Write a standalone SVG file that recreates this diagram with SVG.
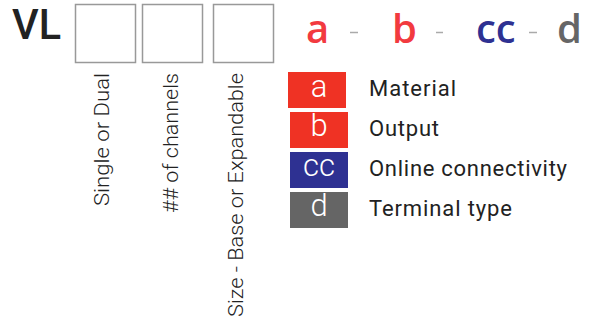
<svg xmlns="http://www.w3.org/2000/svg" width="589" height="324" viewBox="0 0 589 324">
<style>
.box{fill:#fff;stroke:#999;stroke-width:1.5}
.vt{font-family:Roboto,"Liberation Sans",sans-serif;font-size:20px;font-weight:300;fill:#222}
.code{font-family:"Open Sans","Liberation Sans",sans-serif;font-size:40px;font-weight:600}
.dash{stroke:#aaa;stroke-width:1.5}
.lt{font-family:Roboto,"Liberation Sans",sans-serif;font-size:22px;fill:#222}
.bt{font-family:Roboto,"Liberation Sans",sans-serif;font-size:31px;font-weight:300;fill:#fff;text-anchor:middle}
</style>
<g id="title"><text x="12" y="39" font-family="Roboto,Liberation Sans,sans-serif" font-weight="500" font-size="42" fill="#222" textLength="49" lengthAdjust="spacingAndGlyphs">VL</text></g>
<g id="box1"><rect class="box" x="75.5" y="4.5" width="60" height="58"/><text class="vt" transform="translate(109,206) rotate(-90)" textLength="133" lengthAdjust="spacingAndGlyphs">Single or Dual</text></g>
<g id="box2"><rect class="box" x="142.5" y="4.5" width="60" height="58"/><text class="vt" transform="translate(178,213) rotate(-90)" textLength="140" lengthAdjust="spacingAndGlyphs">## of channels</text></g>
<g id="box3"><rect class="box" x="213.5" y="4.5" width="60" height="58"/><text class="vt" transform="translate(243,317) rotate(-90)" textLength="244" lengthAdjust="spacingAndGlyphs">Size - Base or Expandable</text></g>
<g id="codes">
<text class="code" x="306" y="43" fill="#f23a3f">a</text>
<text class="code" x="392" y="43" fill="#f23a3f">b</text>
<text class="code" x="476" y="43" fill="#2e3192">cc</text>
<text class="code" x="557" y="43" fill="#666">d</text>
</g>
<g id="connectors">
<line class="dash" x1="350" y1="32.5" x2="358" y2="32.5"/>
<line class="dash" x1="436" y1="32.5" x2="443" y2="32.5"/>
<line class="dash" x1="529" y1="32.5" x2="537" y2="32.5"/>
</g>
<g id="legend-a"><rect x="288" y="72" width="58" height="36" fill="#ef3224"/><text class="bt" x="319" y="97">a</text><text class="lt" x="369" y="96" textLength="87">Material</text></g>
<g id="legend-b"><rect x="290" y="112" width="58" height="36" fill="#ef3224"/><text class="bt" x="319" y="136">b</text><text class="lt" x="369" y="136" textLength="70">Output</text></g>
<g id="legend-cc"><rect x="290" y="152" width="58" height="36" fill="#2e3192"/><text class="bt" x="319" y="176">cc</text><text class="lt" x="369" y="176" textLength="198">Online connectivity</text></g>
<g id="legend-d"><rect x="290" y="192" width="58" height="36" fill="#656565"/><text class="bt" x="319" y="216">d</text><text class="lt" x="369" y="216" textLength="143">Terminal type</text></g>
</svg>
